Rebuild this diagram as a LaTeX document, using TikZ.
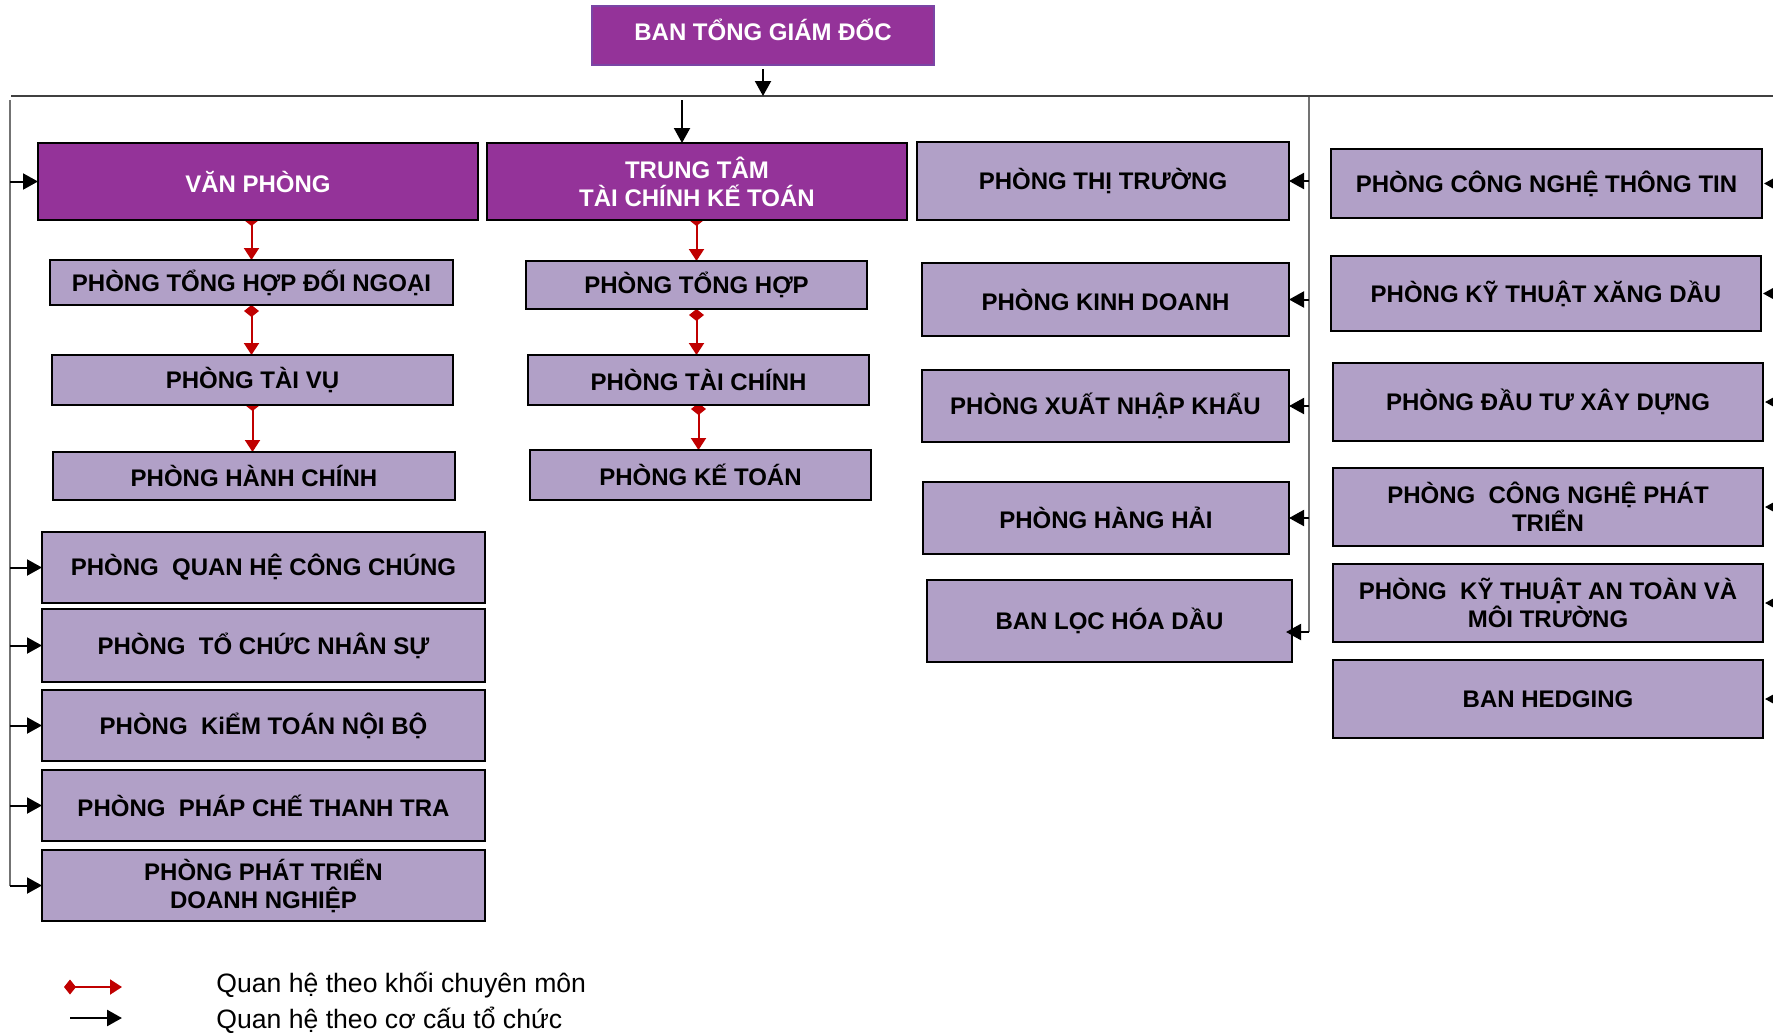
\documentclass[tikz,border=0pt]{standalone}
\usepackage{fontspec}
\setmainfont{Liberation Sans}
\usetikzlibrary{arrows.meta,backgrounds}
\definecolor{dpur}{HTML}{943399}
\definecolor{lav}{HTML}{B1A0C7}
\definecolor{rd}{HTML}{C00000}
\definecolor{bpur}{HTML}{7A45A5}
\newcommand\bx[7]{\node[#6, minimum width={(#4-#2)*0.5pt}, minimum height={(#5-#3)*0.5pt}] (#1) at ({(#2+#4)/2},{(#3+#5)/2}) {#7};}
\begin{document}
\begin{tikzpicture}[x=0.5pt,y=-0.5pt,
  base/.style={inner sep=0pt, outer sep=0pt, line width=1.1pt, align=center, font=\fontsize{12}{14}\selectfont\bfseries},
  lbox/.style={base, draw=black, fill=lav, text=black},
  pbox/.style={base, draw=black, fill=dpur, text=white},
  topbox/.style={base, draw=bpur, fill=dpur, text=white, line width=0.8pt},
  blk/.style={draw=black, line width=1pt, -{Triangle[length=7.5pt,width=8pt]}},
  rarrow/.style={draw=rd, line width=1pt, {Diamond[length=6pt,width=7.5pt]}-{Triangle[length=6pt,width=7.5pt]}},
  trunk/.style={draw=black!75, line width=1.2pt},
  vline/.style={draw=black!55, line width=0.8pt},
  legtext/.style={anchor=west, inner sep=0pt, font=\fontsize{13.3}{16}\selectfont}]
\useasboundingbox (0,0) rectangle (1773,1035);
\clip (0,0) rectangle (1773,1035);
% boxes
\bx{ban}{592}{6}{934}{65}{topbox}{\raisebox{5.5pt}{BAN TỔNG GIÁM ĐỐC}}
\bx{van}{38}{143}{478}{220}{pbox}{VĂN PHÒNG}
\bx{ttc}{487}{143}{907}{220}{pbox}{TRUNG TÂM\\TÀI CHÍNH KẾ TOÁN}
\bx{thi}{917}{142}{1289}{220}{lbox}{PHÒNG THỊ TRƯỜNG}
\bx{cntt}{1331}{149}{1762}{218}{lbox}{PHÒNG CÔNG NGHỆ THÔNG TIN}
\bx{thdn}{50}{260}{453}{305}{lbox}{PHÒNG TỔNG HỢP ĐỐI NGOẠI}
\bx{tv}{52}{355}{453}{405}{lbox}{PHÒNG TÀI VỤ}
\bx{hc}{53}{452}{455}{500}{lbox}{PHÒNG HÀNH CHÍNH}
\bx{th}{526}{261}{867}{309}{lbox}{PHÒNG TỔNG HỢP}
\bx{tc}{528}{355}{869}{405}{lbox}{PHÒNG TÀI CHÍNH}
\bx{kt}{530}{450}{871}{500}{lbox}{PHÒNG KẾ TOÁN}
\bx{kd}{922}{263}{1289}{336}{lbox}{PHÒNG KINH DOANH}
\bx{xnk}{922}{370}{1289}{442}{lbox}{PHÒNG XUẤT NHẬP KHẨU}
\bx{hh}{923}{482}{1289}{554}{lbox}{PHÒNG HÀNG HẢI}
\bx{bl}{927}{580}{1292}{662}{lbox}{BAN LỌC HÓA DẦU}
\bx{ktxd}{1331}{256}{1761}{331}{lbox}{PHÒNG KỸ THUẬT XĂNG DẦU}
\bx{dtxd}{1333}{363}{1763}{441}{lbox}{PHÒNG ĐẦU TƯ XÂY DỰNG}
\bx{cnpt}{1333}{468}{1763}{546}{lbox}{PHÒNG~ CÔNG NGHỆ PHÁT\\TRIỂN}
\bx{ktat}{1333}{564}{1763}{642}{lbox}{PHÒNG~ KỸ THUẬT AN TOÀN VÀ\\MÔI TRƯỜNG}
\bx{hedge}{1333}{660}{1763}{738}{lbox}{BAN HEDGING}
\bx{qh}{42}{532}{485}{603}{lbox}{PHÒNG~ QUAN HỆ CÔNG CHÚNG}
\bx{tcns}{42}{609}{485}{682}{lbox}{PHÒNG~ TỔ CHỨC NHÂN SỰ}
\bx{ktnb}{42}{690}{485}{761}{lbox}{PHÒNG~ KiỂM TOÁN NỘI BỘ}
\bx{pctt}{42}{770}{485}{841}{lbox}{PHÒNG~ PHÁP CHẾ THANH TRA}
\bx{ptdn}{42}{850}{485}{921}{lbox}{PHÒNG PHÁT TRIỂN\\DOANH NGHIỆP}
% coordinates
\coordinate (hl) at (11,96);
\coordinate (hr) at (1773,96);
\coordinate (lv) at (10,100);
\coordinate (mv) at (1309,97);
\coordinate (rr) at (1800,0);
\coordinate (tta) at (682,100);
\coordinate (blp) at ([yshift=-5.5pt]bl.east);
\coordinate (blt) at ([yshift=-5.5pt,xshift=-3pt]bl.east);
% trunk lines
\draw[trunk] (hl) -- (hr);
\draw[blk, shorten <=2pt] (ban.south) -- (ban.south |- hl);
\draw[blk] (tta) -- (tta |- ttc.north);
% left side
\draw[vline] (lv) -- (lv |- ptdn.west);
\foreach \n in {van,qh,tcns,ktnb,pctt,ptdn}
  \draw[blk] (lv |- \n.west) -- (\n.west);
% middle vertical
\draw[vline] (mv) -- (mv |- blp);
\foreach \n in {thi,kd,xnk,hh}
  \draw[blk] (mv |- \n.east) -- (\n.east);
\draw[blk] (mv |- blp) -- (blt);
% right side
\foreach \n in {cntt,ktxd,dtxd,cnpt,ktat,hedge}
  \draw[blk] (rr |- \n.east) -- ([xshift=1pt]\n.east);
% red relations
\begin{pgfonlayer}{background}
\draw[rarrow, shorten <=-3pt] (van.south -| thdn.north) -- (thdn.north);
\draw[rarrow] (thdn.south) -- (thdn.south |- tv.north);
\draw[rarrow, shorten <=-3pt] (tv.south) -- (tv.south |- hc.north);
\draw[rarrow, shorten <=-3pt] (ttc.south -| th.north) -- (th.north);
\draw[rarrow] (th.south) -- (th.south |- tc.north);
\draw[rarrow, shorten <=-1pt] (tc.south) -- (tc.south |- kt.north);
\end{pgfonlayer}
% legend
\node[legtext] (lg1) at (216,985) {Quan hệ theo khối chuyên môn};
\node[legtext] (lg2) at (216,1020) {Quan hệ theo cơ cấu tổ chức};
\coordinate (r1) at (64,987);
\coordinate (r2) at (122,987);
\coordinate (b1) at (70,1018);
\coordinate (b2) at (122,1018);
\draw[rarrow] (r1) -- (r2);
\draw[blk, line width=1.3pt] (b1) -- (b2);
\end{tikzpicture}
\end{document}
